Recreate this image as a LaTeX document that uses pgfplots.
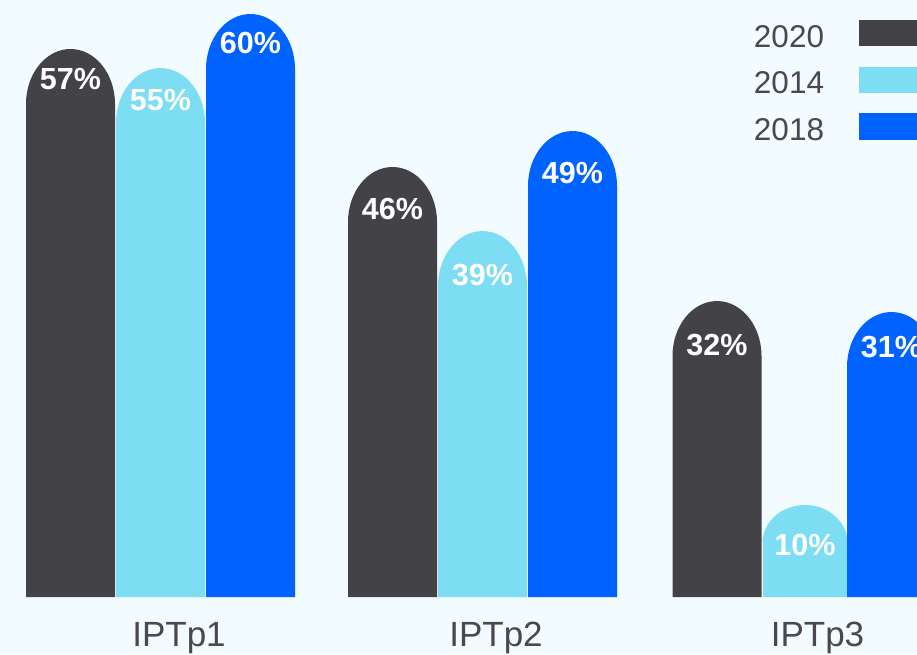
\documentclass[border=0pt]{standalone}
\usepackage{pgfplots}
\pgfplotsset{compat=1.18}
\usepackage{pgfplotstable}
\usepackage{fontspec}
\setmainfont{Liberation Sans}
\definecolor{bgc}{HTML}{F2FBFE}
\definecolor{cdark}{HTML}{434247}
\definecolor{clight}{HTML}{7DDDF3}
\definecolor{cblue}{HTML}{0062FF}
\definecolor{ctext}{HTML}{48484D}

\pgfdeclareplotmark{cap}{%
  \pgfpathmoveto{\pgfqpoint{-44.5pt}{0pt}}%
  \pgfpatharc{180}{0}{44.5pt and 55pt}%
  \pgfpathclose
  \pgfusepathqfill}

\pgfplotsset{swatch/.style={legend image code/.code={\fill[##1] (0pt,-9pt) rectangle (90pt,17pt);}},
  vlabel/.style={draw=none, mark=none, forget plot, nodes near coords, point meta=explicit symbolic,
  every node near coord/.append style={font=\bfseries\fontsize{30.5}{36}\selectfont, text=white, anchor=center, inner sep=0pt}}}

% x  h (bar height)  c (cap height)  ly (label y)  lab
\pgfplotstableread{
x h c ly lab
70.5 56.38 5.66 53.29 57\%
392.5 44.24 5.66 39.87 46\%
717 30.45 5.66 25.93 32\%
}\tdark
\pgfplotstableread{
x h c ly lab
160.5 54.42 5.66 51.13 55\%
482.5 37.65 5.66 33.13 39\%
805 9.47 3.91 5.35 10\%
}\tlight
\pgfplotstableread{
x h c ly lab
250.5 59.98 5.66 57.0 60\%
572.5 47.94 5.66 43.57 49\%
891.5 29.32 5.66 25.67 31\%
}\tblue

\begin{document}
\begin{tikzpicture}
\useasboundingbox (0,0) rectangle (917pt,654pt);
\clip (0,0) rectangle (917pt,654pt);
\fill[bgc] (0,0) rectangle (917pt,654pt);
\begin{axis}[
  at={(0,0)}, anchor=south west,
  scale only axis, width=917pt, height=654pt,
  xmin=0, xmax=917, ymin=-5.864, ymax=61.42,
  hide axis,
  clip marker paths=true,
  legend plot pos=right,
  legend cell align=left,
  legend style={at={(0.8222,0.9694)}, anchor=north west, draw=none, fill=none,
    inner sep=0pt, outer sep=0pt,
    font=\fontsize{31.5}{36}\selectfont, text=ctext,
    row sep=18pt, nodes={inner sep=0pt},
    /tikz/every odd column/.append style={column sep=35pt}},
]
% 2020
\addplot[ybar, bar width=89pt, bar shift=0pt, fill=cdark, draw=none, swatch]
  table[x=x, y expr=\thisrow{h}-\thisrow{c}] {\tdark};
\addlegendentry{2020}
\addplot[only marks, mark=cap, mark options={fill=cdark, draw=none}, forget plot]
  table[x=x, y expr=\thisrow{h}-\thisrow{c}] {\tdark};
% 2014
\addplot[ybar, bar width=89pt, bar shift=0pt, fill=clight, draw=none, swatch,
  restrict expr to domain={\thisrow{c}}{5:7}]
  table[x=x, y expr=\thisrow{h}-\thisrow{c}] {\tlight};
\addlegendentry{2014}
\addplot[only marks, mark=cap, mark options={fill=clight, draw=none}, forget plot,
  restrict expr to domain={\thisrow{c}}{5:7}]
  table[x=x, y expr=\thisrow{h}-\thisrow{c}] {\tlight};
\addplot[ybar, bar width=85pt, bar shift=0pt, fill=clight, draw=none, forget plot,
  restrict expr to domain={\thisrow{c}}{0:5}]
  table[x=x, y expr=\thisrow{h}-\thisrow{c}] {\tlight};
\addplot[only marks, mark=cap, mark options={fill=clight, draw=none, xscale=0.955, yscale=0.69}, forget plot,
  restrict expr to domain={\thisrow{c}}{0:5}]
  table[x=x, y expr=\thisrow{h}-\thisrow{c}] {\tlight};
% 2018
\addplot[ybar, bar width=89pt, bar shift=0pt, fill=cblue, draw=none, swatch]
  table[x=x, y expr=\thisrow{h}-\thisrow{c}] {\tblue};
\addlegendentry{2018}
\addplot[only marks, mark=cap, mark options={fill=cblue, draw=none}, forget plot]
  table[x=x, y expr=\thisrow{h}-\thisrow{c}] {\tblue};
% value labels
\addplot[vlabel] table[x=x, y=ly, meta=lab] {\tdark};
\addplot[vlabel] table[x=x, y=ly, meta=lab] {\tlight};
\addplot[vlabel] table[x=x, y=ly, meta=lab] {\tblue};
% category labels
\addplot[draw=none, mark=none, forget plot, nodes near coords, point meta=explicit symbolic,
  every node near coord/.append style={font=\fontsize{35}{40}\selectfont, text=ctext, anchor=base, inner sep=0pt}]
  coordinates {(179,-5.14) [IPTp1] (496,-5.14) [IPTp2] (817.5,-5.14) [IPTp3]};
\end{axis}
\end{tikzpicture}
\end{document}
